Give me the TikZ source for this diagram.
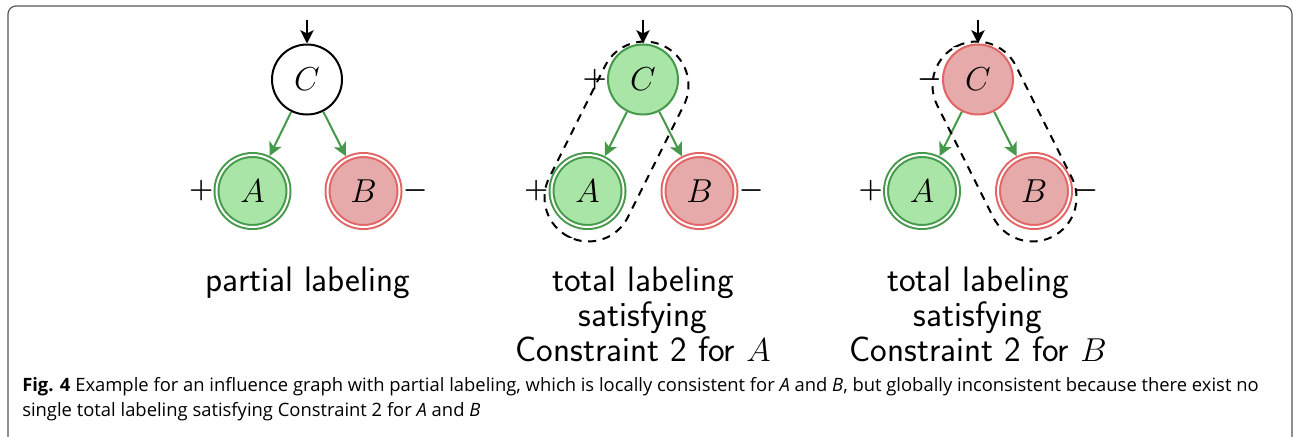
\documentclass[tikz,border=0pt]{standalone}
\usepackage{fontspec}
\usetikzlibrary{arrows.meta}
\newfontfamily\capfont{Open Sans}
\definecolor{posfill}{HTML}{A9E5A6}
\definecolor{posline}{HTML}{45994A}
\definecolor{negfill}{HTML}{E6AAAA}
\definecolor{negline}{HTML}{E26464}
\definecolor{framegray}{HTML}{555555}
\begin{document}
\begin{tikzpicture}[x=0.75pt,y=0.75pt,
  vnode/.style={circle,draw,line width=1.5pt,minimum size=52.5pt,inner sep=0pt,
    font=\fontsize{27}{27}\selectfont},
  fixnode/.style={vnode,minimum size=54pt,double=white,double distance=1.5pt,
    outer sep=2.25pt},
  posnode/.style={fill=posfill,draw=posline},
  negnode/.style={fill=negfill,draw=negline},
  sign/.style={inner sep=0pt,font=\fontsize{22}{22}\selectfont\boldmath},
  infl/.style={draw=posline,line width=1.5pt,
    -{Stealth[length=10pt,width=10pt,inset=2.5pt]}},
  input/.style={line width=1.5pt,-{Stealth[length=10pt,width=10pt,inset=2.5pt]}},
  hull/.style={line width=1.5pt,dash pattern=on 6pt off 5pt},
  caption/.style={font=\fontsize{26.5}{26}\selectfont\sffamily,align=center,
    inner sep=0pt,anchor=north}]
  \useasboundingbox[fill=white] (0,0) rectangle (1294,-436);
  \draw[framegray,line width=0.9pt,rounded corners=6pt] (8,-6) rectangle (1292,-460);

  % partial labeling
  \node[vnode] (C1) at (307,-79.5) {$C$};
  \node[fixnode,posnode] (A1) at (252.5,-191) {$A$};
  \node[fixnode,negnode] (B1) at (363.5,-191) {$B$};
  \coordinate (in1) at (307,-20);
  \draw[input] (in1) -- (C1);
  \draw[infl] (C1) -- (A1);
  \draw[infl] (C1) -- (B1);
  \node[sign,anchor=east] (pA1) at (A1.west) {$+$};
  \node[sign,anchor=west] (mB1) at (B1.east) {$-$};
  \node[caption] (t1) at (308,-267) {partial labeling};

  % total labeling for A
  \node[vnode,posnode] (C2) at (643,-79.5) {$C$};
  \node[fixnode,posnode] (A2) at (587.5,-191) {$A$};
  \node[fixnode,negnode] (B2) at (699.5,-191) {$B$};
  \coordinate (in2) at (643,-20);
  \draw[input] (in2) -- (C2);
  \draw[infl] (C2) -- (A2);
  \draw[infl] (C2) -- (B2);
  \node[sign,anchor=east] (pC2) at (C2.west) {$+$};
  \node[sign,anchor=east] (pA2) at (A2.west) {$+$};
  \node[sign,anchor=west] (mB2) at (B2.east) {$-$};
  \begin{scope}[shift={(616.5,-141.5)},rotate=63.43]
    \draw[hull,rounded corners=33pt] (-106.6,-44) rectangle (106.6,44);
  \end{scope}
  \node[caption] (t2) at (643,-267) {total labeling\\satisfying\\Constraint 2 for $A$};

  % total labeling for B
  \node[vnode,negnode] (C3) at (978,-79.5) {$C$};
  \node[fixnode,posnode] (A3) at (922,-191) {$A$};
  \node[fixnode,negnode] (B3) at (1034,-191) {$B$};
  \coordinate (in3) at (978,-20);
  \draw[input] (in3) -- (C3);
  \draw[infl] (C3) -- (A3);
  \draw[infl] (C3) -- (B3);
  \node[sign,anchor=east] (mC3) at (C3.west) {$-$};
  \node[sign,anchor=east] (pA3) at (A3.west) {$+$};
  \node[sign,anchor=west] (mB3) at (B3.east) {$-$};
  \begin{scope}[shift={(1004.5,-141.5)},rotate=-63.43]
    \draw[hull,rounded corners=33pt] (-106.6,-44) rectangle (106.6,44);
  \end{scope}
  \node[caption] (t3) at (978,-267) {total labeling\\satisfying\\Constraint 2 for $B$};

  % figure caption
  \node[anchor=base west,inner sep=0pt,align=left,
    font=\capfont\fontsize{13.8}{18.75}\selectfont] (cap) at (22,-416)
    {\textbf{Fig. 4} Example for an influence graph with partial labeling, which is locally consistent for \textit{A} and \textit{B}, but globally inconsistent because there exist no\\
     single total labeling satisfying Constraint 2 for \textit{A} and \textit{B}};
\end{tikzpicture}
\end{document}
